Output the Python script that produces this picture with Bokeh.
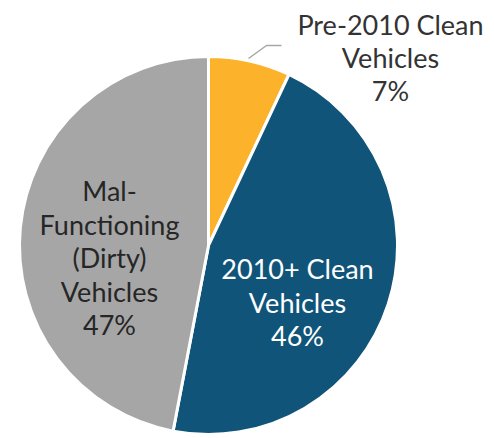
import numpy as np
from bokeh.plotting import figure
from bokeh.models import Range1d
from bokeh.core.properties import value
from bokeh.embed import file_html
from bokeh.resources import INLINE

categories = ["Pre-2010 Clean Vehicles", "2010+ Clean Vehicles", "Mal-Functioning (Dirty) Vehicles"]
shares = [7, 46, 47]
colors = ["#FDB22B", "#115479", "#A6A6A6"]

W, H = 490, 434
IMG_H = 438
p = figure(width=W, height=H, output_backend="svg", toolbar_location=None,
           x_range=Range1d(0, W), y_range=Range1d(IMG_H - H, IMG_H), min_border=0)
p.axis.visible = False
p.grid.visible = False
p.outline_line_color = None
p.background_fill_color = "white"

# pie geometry in image pixel coordinates (y up = IMG_H - y_img)
cx, cy, r = 208, IMG_H - 245, 189
fr = np.array(shares) / sum(shares)
ends = np.pi / 2 - 2 * np.pi * np.cumsum(fr)
starts = np.concatenate([[np.pi / 2], ends[:-1]])
p.wedge(x=cx, y=cy, radius=r, start_angle=starts, end_angle=ends, direction="clock",
        fill_color=colors, line_color="white", line_width=3)

# leader line for small slice
p.line(x=[248, 266, 281], y=[IMG_H - 58, IMG_H - 45, IMG_H - 45], line_color="#A6A6A6", line_width=1.5)

font = value("Lato")

def label(lines, x, y0, step, color):
    ys = [IMG_H - (y0 + i * step) for i in range(len(lines))]
    p.text(x=[x] * len(lines), y=ys, text=lines, text_font=font, text_font_size="27px",
           text_color=color, text_align="center", text_baseline="middle")

label(["Pre-2010 Clean", "Vehicles", f"{shares[0]}%"], 390, 24, 33, "#333333")
label(["2010+ Clean", "Vehicles", f"{shares[1]}%"], 297, 268, 33.5, "white")
label(["Mal-", "Functioning", "(Dirty)", "Vehicles", f"{shares[2]}%"], 109, 190, 33.5, "#262626")

open("out.html", "w").write(file_html(p, INLINE))
